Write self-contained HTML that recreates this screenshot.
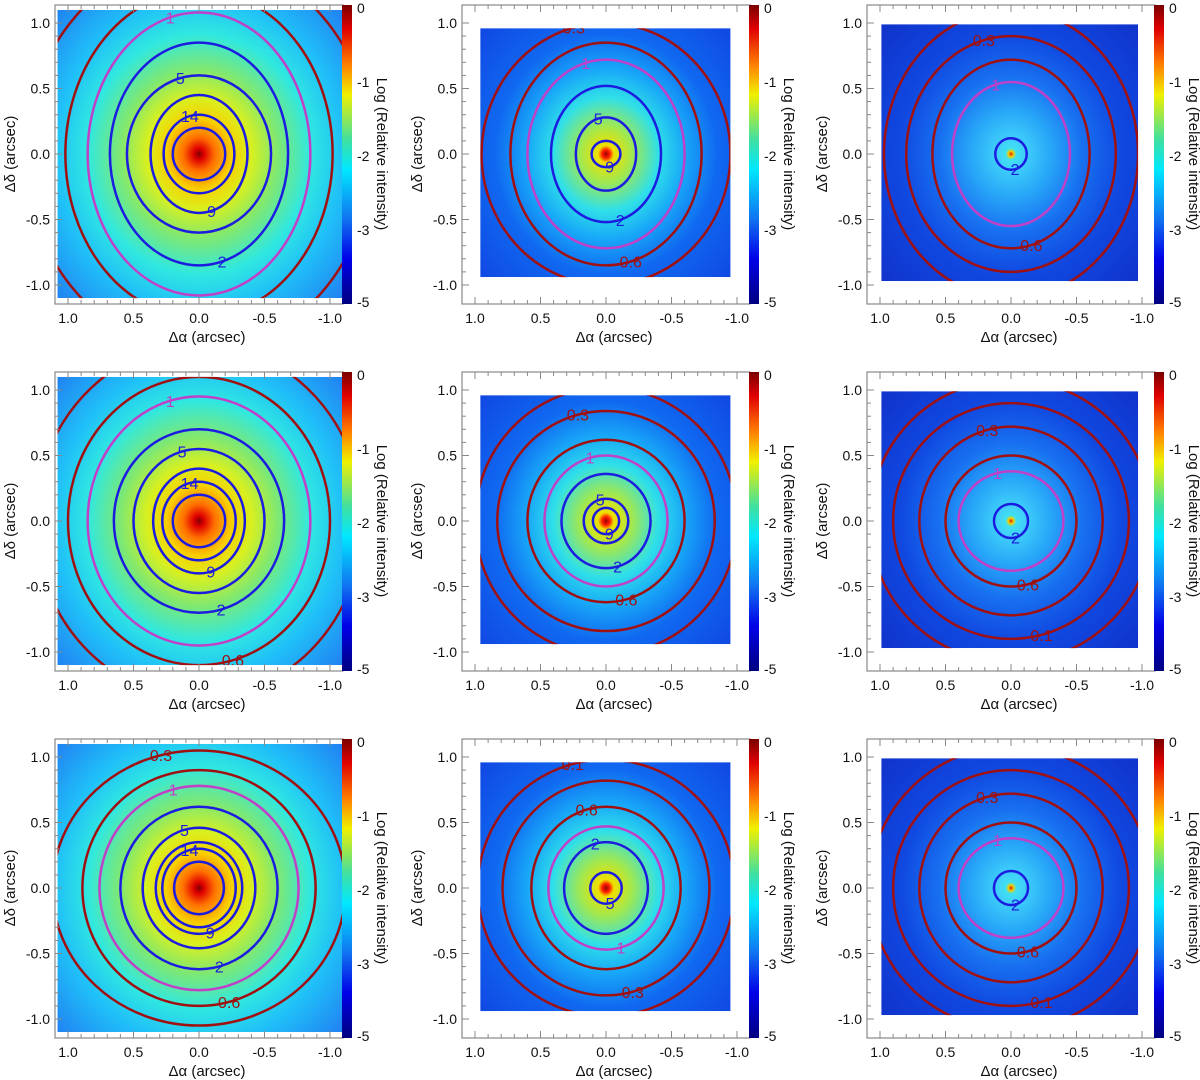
<!DOCTYPE html>
<html><head><meta charset="utf-8">
<style>
html,body{margin:0;padding:0;background:#fff;}
svg{display:block;font-family:"Liberation Sans",sans-serif;}
</style></head>
<body>
<svg id="fig" width="1200" height="1080" viewBox="0 0 1200 1080" xmlns="http://www.w3.org/2000/svg">
<defs>
<linearGradient id="cbar" x1="0" y1="0" x2="0" y2="1">
<stop offset="0" stop-color="#7a0000"/>
<stop offset="0.08" stop-color="#e00000"/>
<stop offset="0.2" stop-color="#ff8000"/>
<stop offset="0.3" stop-color="#f0f000"/>
<stop offset="0.45" stop-color="#40e0a0"/>
<stop offset="0.55" stop-color="#00e8ff"/>
<stop offset="0.72" stop-color="#1070f0"/>
<stop offset="0.85" stop-color="#0000e8"/>
<stop offset="1" stop-color="#000080"/>
</linearGradient>
</defs>
</svg>
<script>
// ---- data ----
const colCenters = [199, 606, 1011];
const rowCenters = [154, 521, 888];
const xTickVals = [1.0, 0.5, 0.0, -0.5, -1.0];
const xTickLabels = ["1.0", "0.5", "0.0", "-0.5", "-1.0"];
const yTickVals = [1.0, 0.5, 0.0, -0.5, -1.0];
const yTickLabels = ["1.0", "0.5", "0.0", "-0.5", "-1.0"];
const cbarVals = [0, -1, -2, -3, -5];
const cbarLabels = ["0", "-1", "-2", "-3", "-5"];
const imgExtent = [[1.08, -1.1, 1.1, -1.1], [0.96, -0.95, 0.96, -0.94], [0.99, -0.97, 0.99, -0.97]];
const levels = [
 [[20,14,9,5,2,1,0.6,0.3],[9,5,2,1,0.6,0.3],[2,1,0.6,0.3,0.1]],
 [[20,14,9,5,2,1,0.6,0.3],[9,5,2,1,0.6,0.3,0.1],[2,1,0.6,0.3,0.1,0.06]],
 [[20,14,9,5,2,1,0.6,0.3],[5,2,1,0.6,0.3,0.1],[2,1,0.6,0.3,0.1,0.06]]
];
const semiX = [
 [[0.2,0.27,0.37,0.55,0.68,0.85,1.02,1.32],[0.11,0.23,0.42,0.6,0.73,0.95],[0.12,0.45,0.6,0.8,0.97]],
 [[0.2,0.28,0.35,0.5,0.65,0.85,1.0,1.25],[0.1,0.17,0.34,0.47,0.6,0.83,1.0],[0.13,0.4,0.5,0.7,0.9,1.08]],
 [[0.19,0.28,0.33,0.43,0.6,0.76,0.89,1.12],[0.12,0.32,0.44,0.57,0.79,0.98],[0.13,0.4,0.5,0.7,0.9,1.08]]
];
const semiY = [
 [[0.2,0.3,0.45,0.6,0.85,1.08,1.25,1.5],[0.1,0.28,0.52,0.72,0.85,1.0],[0.12,0.55,0.72,0.9,1.1]],
 [[0.2,0.3,0.4,0.55,0.7,0.95,1.1,1.35],[0.1,0.17,0.36,0.5,0.62,0.84,1.02],[0.13,0.38,0.5,0.72,0.9,1.08]],
 [[0.2,0.3,0.35,0.46,0.62,0.78,0.9,1.05],[0.12,0.35,0.47,0.62,0.82,0.98],[0.13,0.38,0.5,0.72,0.9,1.08]]
];
const profR = [[0,0.04,0.12,0.25,0.4,0.6,0.85,1.1,1.6],[0,0.03,0.06,0.2,0.4,0.6,0.85,1.4],[0,0.02,0.04,0.1,0.3,0.55,0.85,1.4]];
const profC = [
 ["#800000","#e00000","#ff7000","#f8d000","#d8f020","#80e870","#30e8e0","#20c0f8","#2070f0"],
 ["#a00000","#ff2000","#f0e000","#a0e850","#30e0e8","#18a8f8","#1068f0","#1040e0"],
 ["#e02000","#f0d000","#40e0f0","#40d0fa","#28a8f8","#1870f0","#1048e0","#1030c8"]
];

const S = 131;
const svg = document.getElementById('fig');
const NS = 'http://www.w3.org/2000/svg';
function mk(tag, attrs, parent){const e=document.createElementNS(NS,tag);for(const k in attrs)e.setAttribute(k,attrs[k]);(parent||svg).appendChild(e);return e;}
function levelColor(l){return l>=2?'#1c1ce0':(l>=1?'#c040c8':'#a01010');}

const defs = svg.querySelector('defs');

for(let r=0;r<3;r++){for(let c=0;c<3;c++){
  const cx=colCenters[c], cy=rowCenters[r];
  const xs=v=>cx - v*S, ys=v=>cy - v*S;
  const panel = mk('g',{});
  
  
  const fl=cx-144, fr=cx+144, ft=cy-149, fb=cy+150;
  const cid='clip'+r+c;
  const cp=mk('clipPath',{id:cid},defs);
  const ex=imgExtent[c];
  mk('rect',{x:xs(ex[0]),y:ys(ex[2]),width:xs(ex[1])-xs(ex[0]),height:ys(ex[3])-ys(ex[2])},cp);
  const ig=mk('g',{'clip-path':'url(#'+cid+')'},panel);
  
  
  const gid='img'+r+c;
  const rmax=profR[c][profR[c].length-1];
  const g=mk('radialGradient',{id:gid,cx:0,cy:0,r:rmax*S,gradientUnits:'userSpaceOnUse',gradientTransform:'translate('+cx+' '+cy+') scale(1 1.08)'},defs);
  for(let i=0;i<profR[c].length;i++) mk('stop',{offset:profR[c][i]/rmax,'stop-color':profC[c][i]},g);
  mk('rect',{x:xs(ex[0]),y:ys(ex[2]),width:xs(ex[1])-xs(ex[0]),height:ys(ex[3])-ys(ex[2]),fill:'url(#'+gid+')'},ig);
  const lv=levels[r][c];
  for(let i=0;i<lv.length;i++){
    const col=levelColor(lv[i]);
    const e=mk('ellipse',{cx:cx,cy:cy,rx:semiX[r][c][i]*S,ry:semiY[r][c][i]*S,fill:'none',stroke:col,'stroke-width':2.5},ig);
    
    
    if(lv[i]<20){
      const ang=(i%2===0?75:-105)*Math.PI/180;
      const tx=cx+semiX[r][c][i]*S*Math.cos(ang), ty=cy+semiY[r][c][i]*S*Math.sin(ang);
      const t=mk('text',{x:tx,y:ty+6,fill:col,'font-size':16,'text-anchor':'middle'},ig);
      t.textContent=String(lv[i]);
      
      
    }
  }
  const fr1=mk('rect',{x:fl,y:ft,width:fr-fl,height:fb-ft,fill:'none',stroke:'#888','stroke-width':1.2},panel);
  
  
  for(let k=-10;k<=10;k++){
    const v=k/10;
    const major=(k%5===0);
    const L=major?7:4;
    const X=xs(v), Y=ys(v);
    if(X>fl&&X<fr){mk('line',{x1:X,y1:fb,x2:X,y2:fb-L,stroke:'#888'},panel);mk('line',{x1:X,y1:ft,x2:X,y2:ft+L,stroke:'#888'},panel);}
    if(Y>ft&&Y<fb){mk('line',{x1:fl,y1:Y,x2:fl+L,y2:Y,stroke:'#888'},panel);}
  }
  for(let i=0;i<xTickVals.length;i++){
    const t=mk('text',{x:xs(xTickVals[i]),y:fb+19,'text-anchor':'middle','font-size':14,fill:'#111'},panel);
    t.textContent=xTickLabels[i];
    
    
  }
  for(let i=0;i<yTickVals.length;i++){
    const t=mk('text',{x:fl-5,y:ys(yTickVals[i])+5,'text-anchor':'end','font-size':14,fill:'#111'},panel);
    t.textContent=yTickLabels[i];
    
    
  }
  const xt=mk('text',{x:cx+8,y:fb+38,'text-anchor':'middle','font-size':15,fill:'#111'},panel);
  xt.textContent='Δα (arcsec)';
  
  
  const yt=mk('text',{x:0,y:0,'text-anchor':'middle','font-size':15,fill:'#111',transform:'translate('+(fl-40)+' '+cy+') rotate(-90)'},panel);
  yt.textContent='Δδ (arcsec)';
  
  
  const cbx=fr-1;
  const cb=mk('rect',{x:cbx,y:ft,width:10,height:fb-ft,fill:'url(#cbar)'},panel);
  
  
  const cbY=v=>v>=-3?ft+3 - v*74:ft+3+222+(-3-v)*36;
  for(let i=0;i<cbarVals.length;i++){
    const t=mk('text',{x:cbx+15,y:cbY(cbarVals[i])+5,'font-size':14,fill:'#111'},panel);
    t.textContent=cbarLabels[i];
    
    
  }
  const ct=mk('text',{x:0,y:0,'text-anchor':'middle','font-size':15,fill:'#111',transform:'translate('+(cbx+35)+' '+cy+') rotate(90)'},panel);
  ct.textContent='Log (Relative intensity)';
  
  
}}
</script>
</body></html>
